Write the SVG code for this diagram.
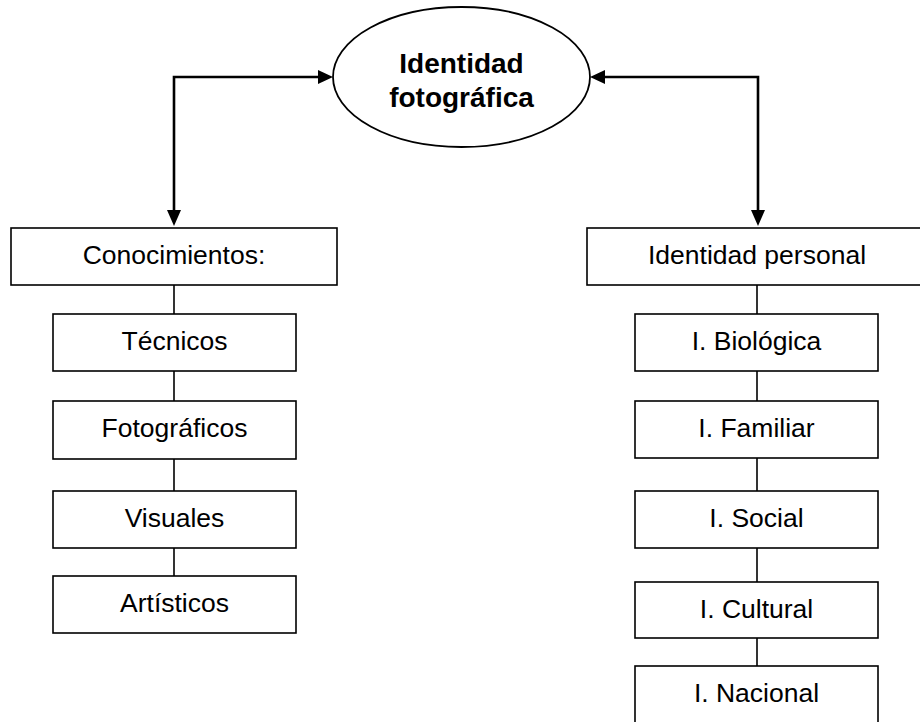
<svg xmlns="http://www.w3.org/2000/svg" width="920" height="722" viewBox="0 0 920 722">
  <style>
    .box { fill: #ffffff; stroke: #000000; stroke-width: 1.6; }
    .oval { fill: #ffffff; stroke: #000000; stroke-width: 1.8; }
    .link { fill: none; stroke: #000000; stroke-width: 1.6; }
    .arrow { fill: none; stroke: #000000; stroke-width: 2.6; }
    .head { fill: #000000; }
    text { font-family: "Liberation Sans", Arial, sans-serif; fill: #000000; text-anchor: middle; }
    .lbl { font-size: 26.5px; }
    .title { font-size: 28px; font-weight: bold; }
  </style>
  <rect width="920" height="722" fill="#ffffff"/>

  <!-- connectors -->
  <g id="connectors">
    <!-- central node to the two branches -->
    <polyline class="arrow" points="319,77 174,77 174,211"/>
    <polygon class="head" points="333,77 318,70 318,84"/>
    <polygon class="head" points="174,226 167,210 181,210"/>
    <polyline class="arrow" points="605,77 758,77 758,211"/>
    <polygon class="head" points="590,77 605,70 605,84"/>
    <polygon class="head" points="758,226 751,210 765,210"/>
    <!-- left column -->
    <line class="link" x1="174" y1="285" x2="174" y2="314"/>
    <line class="link" x1="174" y1="371" x2="174" y2="401"/>
    <line class="link" x1="174" y1="459" x2="174" y2="491"/>
    <line class="link" x1="174" y1="548" x2="174" y2="576"/>
    <!-- right column -->
    <line class="link" x1="757" y1="285" x2="757" y2="314"/>
    <line class="link" x1="757" y1="371" x2="757" y2="401"/>
    <line class="link" x1="757" y1="458" x2="757" y2="491"/>
    <line class="link" x1="757" y1="548" x2="757" y2="582"/>
    <line class="link" x1="757" y1="638" x2="757" y2="666"/>
  </g>

  <g id="identidad-fotografica">
    <ellipse class="oval" cx="461.5" cy="77" rx="128.5" ry="70"/>
    <text class="title" x="461.5" y="73">Identidad</text>
    <text class="title" x="461.5" y="107">fotográfica</text>
  </g>

  <g id="conocimientos">
    <rect class="box" x="11" y="228" width="326" height="57"/>
    <text class="lbl" x="174" y="264">Conocimientos:</text>
  </g>
  <g id="tecnicos">
    <rect class="box" x="53" y="314" width="243" height="57"/>
    <text class="lbl" x="174.5" y="350">Técnicos</text>
  </g>
  <g id="fotograficos">
    <rect class="box" x="53" y="401" width="243" height="58"/>
    <text class="lbl" x="174.5" y="437">Fotográficos</text>
  </g>
  <g id="visuales">
    <rect class="box" x="53" y="491" width="243" height="57"/>
    <text class="lbl" x="174.5" y="527">Visuales</text>
  </g>
  <g id="artisticos">
    <rect class="box" x="53" y="576" width="243" height="57"/>
    <text class="lbl" x="174.5" y="612">Artísticos</text>
  </g>

  <g id="identidad-personal">
    <rect class="box" x="587" y="228" width="341" height="57"/>
    <text class="lbl" x="757" y="264">Identidad personal</text>
  </g>
  <g id="i-biologica">
    <rect class="box" x="635" y="314" width="243" height="57"/>
    <text class="lbl" x="756.5" y="350">I. Biológica</text>
  </g>
  <g id="i-familiar">
    <rect class="box" x="635" y="401" width="243" height="57"/>
    <text class="lbl" x="756.5" y="437">I. Familiar</text>
  </g>
  <g id="i-social">
    <rect class="box" x="635" y="491" width="243" height="57"/>
    <text class="lbl" x="756.5" y="527">I. Social</text>
  </g>
  <g id="i-cultural">
    <rect class="box" x="635" y="582" width="243" height="56"/>
    <text class="lbl" x="756.5" y="618">I. Cultural</text>
  </g>
  <g id="i-nacional">
    <rect class="box" x="635" y="666" width="243" height="70"/>
    <text class="lbl" x="756.5" y="702">I. Nacional</text>
  </g>
</svg>
